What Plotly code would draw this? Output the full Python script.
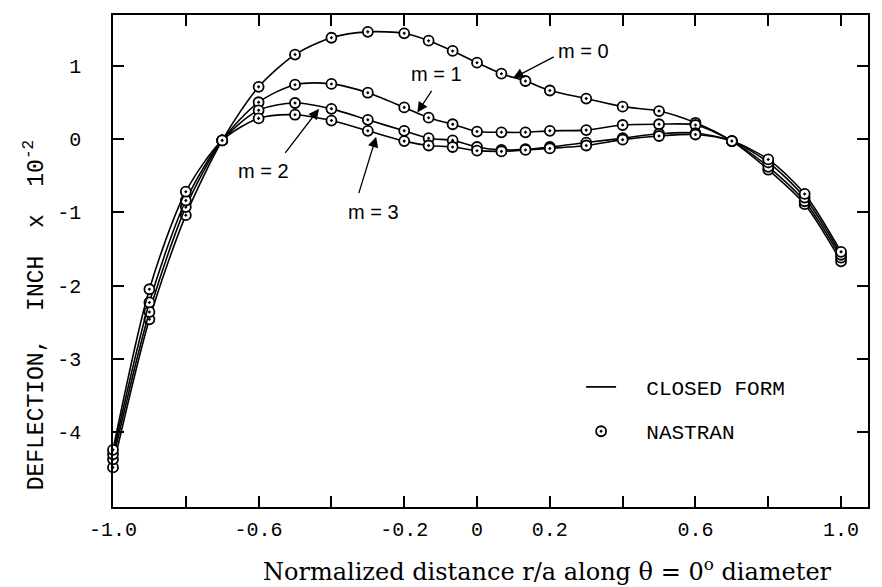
import plotly.graph_objects as go

# ---- data ----
r_over_a = [-1.0, -0.9, -0.8, -0.7, -0.6, -0.5, -0.4, -0.3, -0.2, -0.133, -0.067, 0.0,
            0.067, 0.133, 0.2, 0.3, 0.4, 0.5, 0.6, 0.7, 0.8, 0.9, 1.0]
m0 = [-4.48, -2.46, -1.04, -0.02, 0.71, 1.15, 1.38, 1.46, 1.44, 1.34, 1.20, 1.04,
      0.89, 0.79, 0.66, 0.55, 0.44, 0.38, 0.22, -0.03, -0.42, -0.89, -1.67]
m1 = [-4.37, -2.36, -0.93, -0.02, 0.50, 0.74, 0.75, 0.63, 0.43, 0.29, 0.20, 0.10,
      0.09, 0.09, 0.11, 0.12, 0.19, 0.20, 0.19, -0.03, -0.38, -0.85, -1.62]
m2 = [-4.30, -2.23, -0.84, -0.02, 0.39, 0.49, 0.41, 0.26, 0.11, 0.01, -0.02, -0.11,
      -0.15, -0.14, -0.11, -0.05, 0.01, 0.07, 0.08, -0.03, -0.32, -0.80, -1.58]
m3 = [-4.24, -2.05, -0.72, -0.02, 0.28, 0.33, 0.25, 0.11, -0.03, -0.09, -0.11, -0.16,
      -0.17, -0.15, -0.13, -0.09, -0.01, 0.04, 0.06, -0.03, -0.28, -0.75, -1.54]
series = [m0, m1, m2, m3]

x_tickvals = [-1.0, -0.8, -0.6, -0.4, -0.2, 0.0, 0.2, 0.4, 0.6, 0.8, 1.0]
x_ticktext = ["-1.0", "", "-0.6", "", "-0.2", "0", "0.2", "", "0.6", "", "1.0"]
y_tickvals = [1, 0, -1, -2, -3, -4]
y_ticktext = ["1", "0", "-1", "-2", "-3", "-4"]

# annotation labels: (text, text x, text y, tail x, tail y, tip x, tip y)
labels = [
    ("m = 0", 0.293, 1.20, 0.215, 1.13, 0.099, 0.83),
    ("m = 1", -0.112, 0.88, -0.122, 0.675, -0.164, 0.36),
    ("m = 2", -0.586, -0.44, -0.53, -0.21, -0.434, 0.41),
    ("m = 3", -0.285, -1.00, -0.326, -0.76, -0.277, 0.03),
]

MONO = "Liberation Mono"
SERIF = "DejaVu Serif"
SANS = "Liberation Sans"

fig = go.Figure()
marker = dict(symbol="circle-dot", size=10, color="white",
              line=dict(color="black", width=1.8))
for ys in series:
    fig.add_trace(go.Scatter(
        x=r_over_a, y=ys, mode="lines+markers",
        line=dict(color="black", width=1.6, shape="spline", smoothing=0.8),
        marker=marker, showlegend=False, cliponaxis=False))

fig.add_trace(go.Scatter(x=[None], y=[None], mode="lines", name="  CLOSED FORM",
                         line=dict(color="black", width=1.8), legendgroup="a"))
fig.add_trace(go.Scatter(x=[None], y=[None], mode="markers", name="  NASTRAN",
                         marker=marker, legendgroup="b"))

for text, tx, ty, ax, ay, px, py in labels:
    fig.add_annotation(x=tx, y=ty, text=text, showarrow=False,
                       font=dict(family=SANS, size=20, color="black"))
    fig.add_annotation(x=px, y=py, ax=ax, ay=ay, axref="x", ayref="y", text="",
                       showarrow=True, arrowhead=2, arrowsize=1.6, arrowwidth=1.3,
                       arrowcolor="black")

fig.add_annotation(xref="paper", yref="paper", x=-0.103, y=0.39,
                   xanchor="center", yanchor="middle",
                   text="DEFLECTION,  INCH  x  10<sup>-2</sup>", textangle=-90,
                   showarrow=False, font=dict(family=MONO, size=23, color="black"))
fig.add_annotation(xref="paper", yref="paper", x=0.575, y=-0.128,
                   xanchor="center", yanchor="middle",
                   text="Normalized distance r/a along \u03b8 = 0<sup>o</sup> diameter",
                   showarrow=False, font=dict(family=SERIF, size=24, color="black"))

axis_common = dict(showline=True, linecolor="black", linewidth=1.5, mirror="ticks",
                   ticks="inside", ticklen=11, tickwidth=1.5, tickcolor="black",
                   showgrid=False, zeroline=False,
                   tickfont=dict(family=MONO, size=20, color="black"))
fig.update_xaxes(range=[-1.0, 1.074], tickvals=x_tickvals, ticktext=x_ticktext,
                 ticklabelstandoff=3, **axis_common)
fig.update_yaxes(range=[-5.02, 1.69], tickvals=y_tickvals, ticktext=y_ticktext,
                 ticklabelstandoff=26, **axis_common)

fig.update_layout(
    width=882, height=587,
    margin=dict(l=113, r=12, t=15, b=80),
    paper_bgcolor="white", plot_bgcolor="white",
    legend=dict(x=0.62, y=0.285, xanchor="left", yanchor="top",
                font=dict(family=MONO, size=21, color="black"),
                bgcolor="rgba(0,0,0,0)", tracegroupgap=14, traceorder="grouped"),
)
fig.write_html("out.html")
